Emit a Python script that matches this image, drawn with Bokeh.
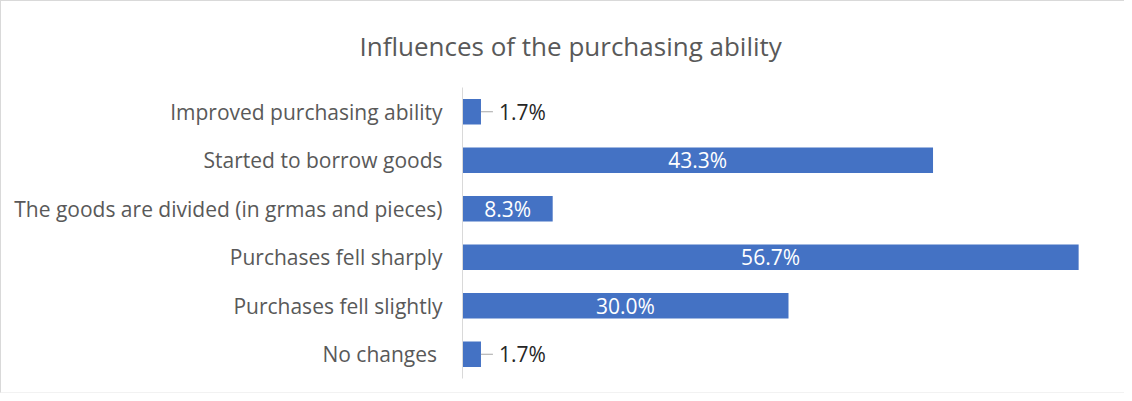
from bokeh.plotting import figure
from bokeh.models import ColumnDataSource, FactorRange, Range1d, Title
from bokeh.core.properties import value
from bokeh.embed import file_html
from bokeh.resources import INLINE

# ---- data (top to bottom as in the reference) ----
categories = [
    "Improved purchasing ability",
    "Started to borrow goods",
    "The goods are divided (in grmas and pieces)",
    "Purchases fell sharply",
    "Purchases fell slightly",
    "No  changes",
]
shares = [1.7, 43.3, 8.3, 56.7, 30.0, 1.7]
label_texts = ["1.7%", "43.3%", "8.3%", "56.7%", "30.0%", "1.7%"]

FONT = "Open Sans"
BAR = "#4472C4"
GRAY = "#595959"

factors = list(reversed(categories))

p = figure(
    width=1124, height=393,
    y_range=FactorRange(factors=factors, range_padding=0),
    x_range=Range1d(0, 60),
    output_backend="svg", toolbar_location=None,
    min_border_left=461, min_border_right=11,
    min_border_top=86, min_border_bottom=16,
    title=None,
)
p.styles = {"border-top": "1px solid #d9d9d9", "border-left": "1px solid #d9d9d9",
            "border-bottom": "1px solid #f2f2f2"}

src = ColumnDataSource(dict(cat=categories, val=shares))
p.hbar(y="cat", right="val", left=0, height=0.53, source=src,
       fill_color=BAR, line_color=None)

# labels inside large bars, outside (with leader line) for small bars
inside = [i for i, v in enumerate(shares) if v >= 5]
outside = [i for i, v in enumerate(shares) if v < 5]

src_in = ColumnDataSource(dict(cat=[categories[i] for i in inside],
                               x=[shares[i] / 2 for i in inside],
                               lab=[label_texts[i] for i in inside]))
p.text(x="x", y="cat", text="lab", source=src_in, text_color="white",
       text_font=value(FONT), text_font_size="21px",
       text_align="center", text_baseline="middle")

src_out = ColumnDataSource(dict(cat=[categories[i] for i in outside],
                                x=[shares[i] for i in outside],
                                x1=[shares[i] + 1.1 for i in outside],
                                lab=[label_texts[i] for i in outside]))
p.segment(x0="x", y0="cat", x1="x1", y1="cat", source=src_out,
          line_color="#a6a6a6", line_width=1)
p.text(x="x", y="cat", text="lab", source=src_out, text_color="#262626",
       x_offset=18, text_font=value(FONT), text_font_size="21px",
       text_align="left", text_baseline="middle")

# title
t = Title(text="Influences of the purchasing ability", align="left",
          vertical_align="top",
          text_font=FONT, text_font_size="26px", text_font_style="normal",
          text_color=GRAY, standoff=43, offset=-103)
p.add_layout(t, "above")

# axes / grid
p.xaxis.visible = False
p.xgrid.grid_line_color = None
p.ygrid.grid_line_color = None
p.outline_line_color = None
p.yaxis.axis_line_color = "#d9d9d9"
p.yaxis.major_tick_line_color = None
p.yaxis.major_tick_out = 0
p.yaxis.major_tick_in = 0
p.yaxis.minor_tick_line_color = None
p.yaxis.major_label_text_font = FONT
p.yaxis.major_label_text_font_size = "21px"
p.yaxis.major_label_text_color = GRAY
p.yaxis.major_label_standoff = 20

open("out.html", "w").write(file_html(p, INLINE))
